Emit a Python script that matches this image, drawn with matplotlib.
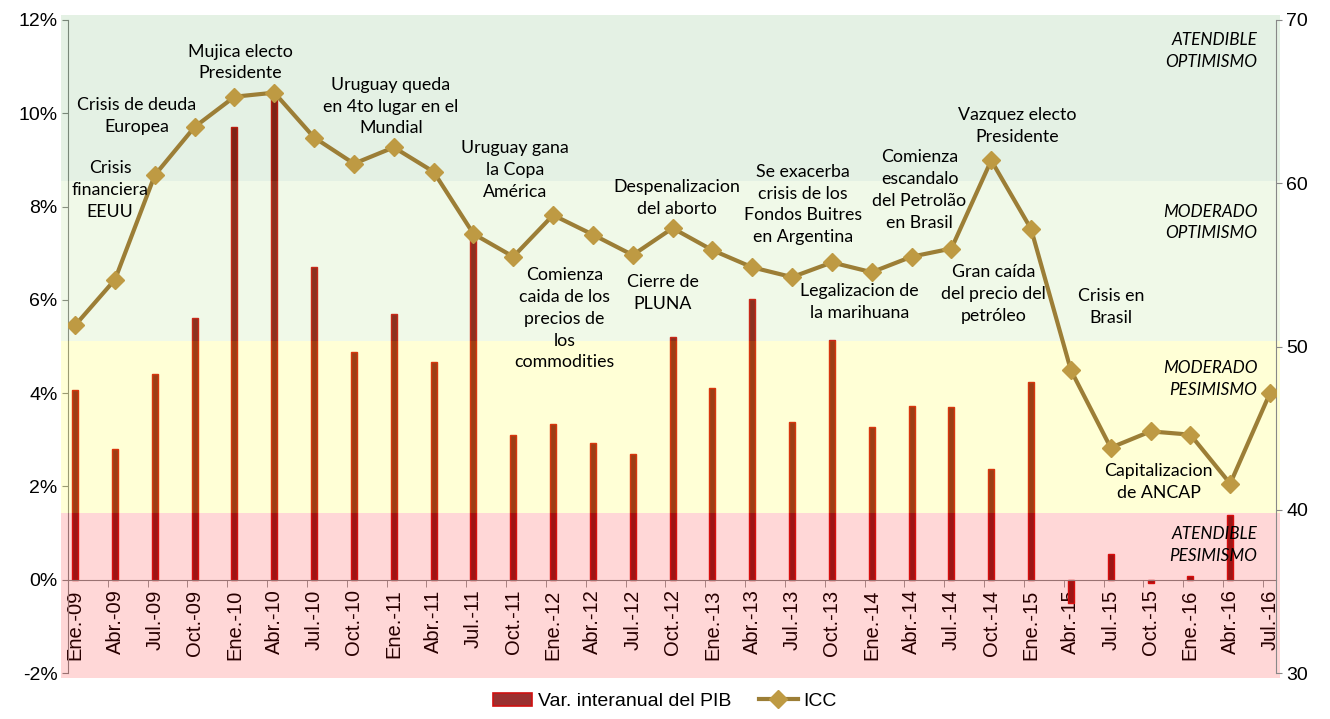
#!/usr/bin/env python3
# -*- coding: utf-8 -*-

import numpy as np
import matplotlib
matplotlib.use("Agg")
import matplotlib.pyplot as plt
from matplotlib.patches import Patch
from matplotlib.lines import Line2D

# categorias trimestrales
categorias = ["Ene.-09", "Abr.-09", "Jul.-09", "Oct.-09",
              "Ene.-10", "Abr.-10", "Jul.-10", "Oct.-10",
              "Ene.-11", "Abr.-11", "Jul.-11", "Oct.-11",
              "Ene.-12", "Abr.-12", "Jul.-12", "Oct.-12",
              "Ene.-13", "Abr.-13", "Jul.-13", "Oct.-13",
              "Ene.-14", "Abr.-14", "Jul.-14", "Oct.-14",
              "Ene.-15", "Abr.-15", "Jul.-15", "Oct.-15",
              "Ene.-16", "Abr.-16", "Jul.-16"]

# variacion interanual del PIB (%), ultimo dato sin barra
pib = [4.07, 2.80, 4.41, 5.61, 9.70, 10.44, 6.70, 4.88, 5.70, 4.66, 7.36, 3.11,
       3.34, 2.94, 2.69, 5.20, 4.10, 6.01, 3.39, 5.14, 3.28, 3.73, 3.70, 2.38,
       4.24, -0.49, 0.56, -0.07, 0.09, 1.39, np.nan]

# indice de confianza del consumidor
icc = [51.3, 54.1, 60.5, 63.45, 65.3, 65.55, 62.8, 61.2, 62.2, 60.7, 56.9, 55.5,
       58.05, 56.85, 55.6, 57.25, 55.9, 54.85, 54.25, 55.15, 54.55, 55.5, 56.0, 61.4,
       57.2, 48.55, 43.8, 44.8, 44.6, 41.6, 47.15]

# zonas del ICC (limites en escala ICC)
zonas_lim = [(29.7, 39.8), (39.8, 50.35), (50.35, 60.15), (60.15, 70.3)]
zonas_nombre = ["ATENDIBLE\nPESIMISMO", "MODERADO\nPESIMISMO",
                "MODERADO\nOPTIMISMO", "ATENDIBLE\nOPTIMISMO"]
zonas_y = [37.85, 48.0, 57.6, 68.1]

# eventos: (texto, x en categoria, y en escala ICC)
eventos = [
    ("Crisis\nfinanciera\nEEUU", 0.88, 59.6),
    ("Crisis de deuda\nEuropea", 1.55, 64.1),
    ("Mujica electo\nPresidente", 4.14, 67.4),
    ("Uruguay queda\nen 4to lugar en el\nMundial", 7.93, 64.7),
    ("Uruguay gana\nla Copa\nAmérica", 11.05, 60.8),
    ("Comienza\ncaida de los\nprecios de\nlos\ncommodities", 12.28, 51.7),
    ("Cierre de\nPLUNA", 14.76, 53.3),
    ("Despenalizacion\ndel aborto", 15.11, 59.1),
    ("Se exacerba\ncrisis de los\nFondos Buitres\nen Argentina", 18.28, 58.7),
    ("Legalizacion de\nla marihuana", 19.7, 52.7),
    ("Comienza\nescandalo\ndel Petrolão\nen Brasil", 21.2, 59.6),
    ("Vazquez electo\nPresidente", 23.65, 63.5),
    ("Gran caída\ndel precio del\npetróleo", 23.05, 53.2),
    ("Crisis en\nBrasil", 26.0, 52.4),
    ("Capitalizacion\nde ANCAP", 27.2, 41.7),
]


def main():
    fig = plt.figure(figsize=(13.3, 7.19), dpi=100)
    ax = fig.add_axes([68 / 1330, 1 - 673 / 719, (1276 - 68) / 1330, (673 - 20) / 719])
    ax2 = ax.twinx()

    x = np.arange(len(categorias))
    ax.bar(x, pib, width=0.15, color="#8B1A1A", edgecolor="#D01010",
           linewidth=1.0, zorder=2)

    ax.set_xlim(-0.18, len(categorias) - 1 + 0.15)
    ax.set_ylim(-2, 12)
    ax.set_yticks(range(-2, 13, 2))
    ax.set_yticklabels([f"{v}%" for v in range(-2, 13, 2)])

    ax.spines["top"].set_visible(False)
    ax.spines["right"].set_visible(False)
    ax.spines["bottom"].set_position(("data", 0))
    for s in ["left", "bottom"]:
        ax.spines[s].set_color("#888888")
    ax.tick_params(axis="y", labelsize=14, colors="#888888", labelcolor="black",
                   length=4, direction="out")

    ax.set_xticks(x)
    ax.set_xticklabels(categorias, rotation=90, fontsize=14.5,
                       family=["Liberation Sans", "DejaVu Sans"])
    ax.tick_params(axis="x", which="major", length=0, pad=7)
    ax.set_xticks(x - 0.18, minor=True)
    ax.tick_params(axis="x", which="minor", length=5, color="#888888")
    for lbl in ax.get_yticklabels():
        lbl.set_family(["Liberation Sans", "DejaVu Sans"])

    # zonas de fondo sobre las barras
    colores_zona = [((1.0, 0.0, 0.0), 0.157), ((1.0, 1.0, 0.0), 0.16),
                    ((0.56, 0.82, 0.31), 0.13), ((0.0, 0.5, 0.0), 0.105)]
    for (lo, hi), (c, a) in zip(zonas_lim, colores_zona):
        r = ax2.axhspan(lo, hi, xmin=-0.006, xmax=1.003, color=c, alpha=a,
                        linewidth=0, zorder=1)
        r.set_clip_on(False)

    ax2.plot(x, icc, color="#9C7E36", linewidth=3, marker="D", markersize=9,
             markerfacecolor="#BE9A43", markeredgecolor="#BE9A43", zorder=3)
    ax2.set_ylim(30, 70)
    ax2.set_yticks(range(30, 71, 10))
    ax2.spines["top"].set_visible(False)
    ax2.spines["left"].set_visible(False)
    ax2.spines["bottom"].set_visible(False)
    ax2.spines["right"].set_color("#888888")
    ax2.tick_params(axis="y", labelsize=14, colors="#888888", labelcolor="black",
                    length=4)
    for lbl in ax2.get_yticklabels():
        lbl.set_family(["Liberation Sans", "DejaVu Sans"])

    for texto, tx, ty in eventos:
        ax2.text(tx, ty, texto, ha="center", va="center", fontsize=12.8,
                 family=["Lato", "DejaVu Sans"], linespacing=1.45, zorder=4)

    for nombre, ty in zip(zonas_nombre, zonas_y):
        ax2.text(29.68, ty, nombre, ha="right", va="center", fontsize=12.3,
                 style="italic", family=["Lato", "DejaVu Sans"],
                 linespacing=1.45, zorder=4)

    handles = [Patch(facecolor="#9B3030", edgecolor="#D01010", linewidth=1.2),
               Line2D([0], [0], color="#9C7E36", linewidth=3, marker="D",
                      markersize=9, markerfacecolor="#BE9A43",
                      markeredgecolor="#BE9A43")]
    fig.legend(handles, ["Var. interanual del PIB", "ICC"], loc="lower center",
               bbox_to_anchor=(0.5, -0.012), ncol=2, frameon=False,
               prop={"family": ["Liberation Sans", "DejaVu Sans"], "size": 14},
               handlelength=2.0, columnspacing=1.4, handletextpad=0.3)

    fig.savefig("out.png", dpi=100)


if __name__ == "__main__":
    main()
